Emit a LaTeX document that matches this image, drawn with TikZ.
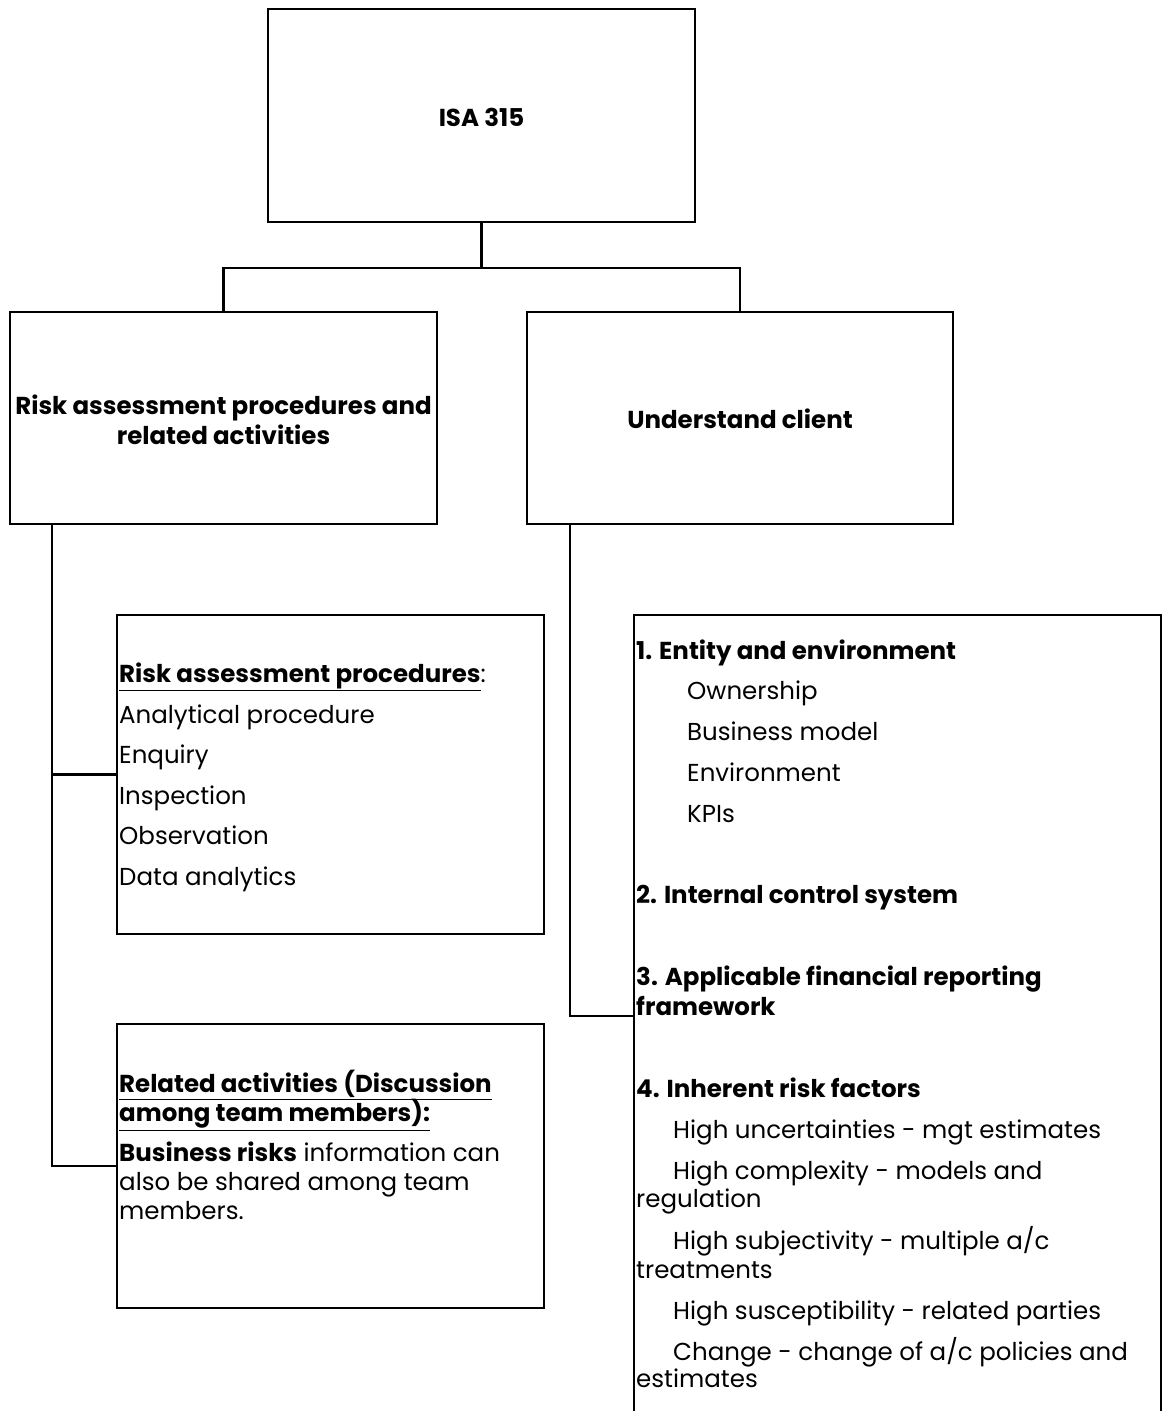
\documentclass[tikz,border=0pt]{standalone}
\usepackage{fontspec}
\setmainfont{Poppins}
\tikzset{
  box/.style={draw, line width=2.4pt, inner sep=0pt},
  conn/.style={line width=2.4pt},
  txt/.style={anchor=mid west, inner sep=0pt, yshift=-7pt, font=\fontsize{24.5}{29}\selectfont},
  head/.style={anchor=center, inner sep=0pt, align=center, font=\fontsize{24.5}{30}\selectfont\bfseries},
}
\begin{document}
\begin{tikzpicture}[x=1pt,y=-1pt]
\useasboundingbox (0,0) rectangle (1163,1411);
% boxes
\node[box, minimum width=427pt, minimum height=213pt] (top) at (481.5,115.5) {};
\node[head] (topt) at (481.5,117) {ISA 315};
\node[box, minimum width=427pt, minimum height=212pt] (rap) at (223.5,418) {};
\node[head] (rapt) at (223.5,420) {Risk assessment procedures and\\related activities};
\node[box, minimum width=426pt, minimum height=212pt] (uc) at (740,418) {};
\node[head] (uct) at (740,419) {Understand client};
\node[box, minimum width=427pt, minimum height=319pt] (ra) at (330.5,774.5) {};
\node[box, minimum width=427pt, minimum height=284pt] (rel) at (330.5,1166) {};
\node[minimum width=527pt, minimum height=802pt, inner sep=0pt] (ucb) at (897.5,1016) {};
\draw[conn] (ucb.south west) -- (ucb.north west) -- (ucb.north east) -- (ucb.south east);
% connectors
\draw[conn] (top.south) -- ++(0,45) coordinate (j);
\draw[conn] (rap.north) |- (j) -| (uc.north);
\coordinate (ls) at (rap.south -| 52,0);
\draw[conn] (ls) |- (rel.west);
\draw[conn] (ra.west -| ls) -- (ra.west);
\coordinate (rs) at (uc.south -| 570,0);
\draw[conn] (rs) |- (ucb.west);
% RA box text
\node[txt] (ra1) at (119,673) {\underline{\textbf{Risk assessment procedures}}:};
\node[txt] (ra2) at (119,714) {Analytical procedure};
\node[txt] (ra3) at (119,754) {Enquiry};
\node[txt] (ra4) at (119,795) {Inspection};
\node[txt] (ra5) at (119,835) {Observation};
\node[txt] (ra6) at (119,876) {Data analytics};
% related
\node[txt] (re1) at (119,1083) {\underline{\textbf{Related activities (Discussion}}};
\node[txt] (re2) at (119,1112) {\underline{\textbf{among team members):}}};
\node[txt] (re3) at (119,1152) {\textbf{Business risks} information can};
\node[txt] (re4) at (119,1181) {also be shared among team};
\node[txt] (re5) at (119,1210) {members.};
% right box
\node[txt] (u1) at (636,650) {\textbf{1. Entity and environment}};
\node[txt] (u2) at (687,690) {Ownership};
\node[txt] (u3) at (687,731) {Business model};
\node[txt] (u4) at (687,772) {Environment};
\node[txt] (u5) at (687,813) {KPIs};
\node[txt] (u6) at (636,894) {\textbf{2. Internal control system}};
\node[txt] (u7) at (636,976) {\textbf{3. Applicable financial reporting}};
\node[txt] (u8) at (636,1006) {\textbf{framework}};
\node[txt] (u9) at (636,1088) {\textbf{4. Inherent risk factors}};
\node[txt] (u10) at (673,1129) {High uncertainties - mgt estimates};
\node[txt] (u11) at (673,1170) {High complexity - models and};
\node[txt] (u12) at (636,1198) {regulation};
\node[txt] (u13) at (673,1240) {High subjectivity - multiple a/c};
\node[txt] (u14) at (636,1269) {treatments};
\node[txt] (u15) at (673,1310) {High susceptibility - related parties};
\node[txt] (u16) at (673,1351) {Change - change of a/c policies and};
\node[txt] (u17) at (636,1378) {estimates};
\end{tikzpicture}
\end{document}
